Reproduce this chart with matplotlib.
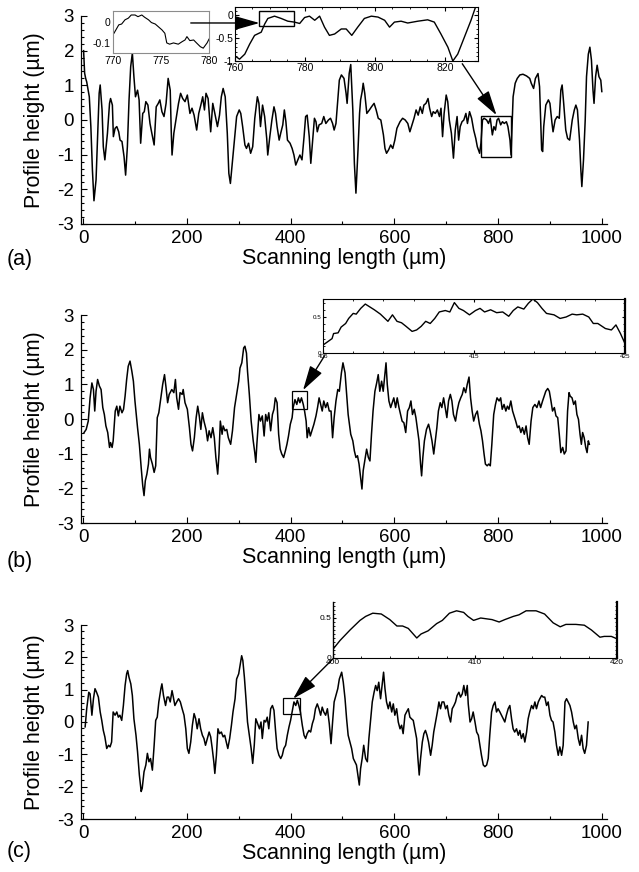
import numpy as np
import matplotlib
matplotlib.use("Agg")
import matplotlib.pyplot as plt
from matplotlib.patches import Rectangle, ConnectionPatch
from matplotlib.ticker import MultipleLocator, FixedLocator

plt.rcParams['font.family'] = ['Liberation Sans', 'DejaVu Sans']
plt.rcParams['axes.unicode_minus'] = False

# ---- profile data (scanning length um, height um) ----
prof_a = [(1, 2.0), (3, 1.35), (5, 1.2), (7, 1.10), (12, 0.67), (15, -0.19), (18, -1.44), (21, -2.33), (25, -1.73),
          (27.6, -0.67), (31, 0.77), (33, 1.01), (36.6, 0.29), (39, -0.77), (42, -1.15), (47, -0.38), (51, 0.48),
          (53, 0.62), (56.5, 0.43), (58.4, -0.48), (61.7, -0.24), (65, -0.19), (68.7, -0.34), (71.3, -0.58),
          (75, -0.62), (79, -1.06), (82, -1.59), (85.4, -0.77), (88.6, 0.58), (91.8, 1.54), (95, 1.93), (98, 1.25),
          (101, 0.67), (105, 0.86), (108, 0.58), (111, -0.67), (115, 0.19), (118, 0.24), (121, 0.53), (125, 0.43),
          (129, -0.10), (132, -0.34), (137, -0.72), (141, 0.38), (145, 0.48), (148, 0.58), (152, 0.24), (156, 0.10),
          (160, 0.48), (164, 1.20), (168, 0.86), (170, -0.34), (171.5, -1.01), (175, -0.38), (179, 0.0), (184, 0.48),
          (188, 0.77), (192, 0.62), (196.5, 0.53), (201, 0.72), (206, 0.19), (210, 0.34), (214, 0.14), (219, -0.29),
          (223, 0.19), (227, 0.43), (230.6, 0.67), (234, 0.29), (237, 0.77), (241, 0.62), (246, -0.34), (250, 0.48),
          (254, 0.19), (259, -0.19), (263, 0.14), (266.5, 0.67), (270, 0.91), (274, 0.67), (278, -0.38), (281, -1.54),
          (284, -1.83), (287, -1.34), (291, -0.67), (296, 0.10), (301, 0.29), (304, 0.19), (307.6, -0.19),
          (312, -0.72), (315, -0.82), (319, -0.67), (323, -0.96), (327, -0.77), (331, 0.05), (336, 0.67), (339, 0.48),
          (342, -0.19), (346, 0.43), (350, 0.10), (354, -0.53), (356, -1.01), (360, -0.48), (364, 0.0), (368, 0.38),
          (371, 0.19), (374, -0.19), (378, -0.58), (381, -0.38), (385, -0.14), (388, 0.29), (391, -0.05),
          (394, -0.58), (399, -0.67), (403, -0.82), (406.5, -1.01), (410, -1.30), (414, -1.15), (418, -1.01),
          (422, -1.15), (426, -0.48), (429, 0.10), (432, 0.14), (436, -0.48), (439, -1.25), (442.5, -0.58),
          (446, 0.05), (449, -0.05), (451.5, -0.34), (455, -0.14), (460, -0.10), (464, 0.10), (468, -0.10),
          (473, 0.0), (477, 0.05), (481, -0.10), (484, -0.29), (487.5, -0.10), (491, 0.58), (494, 1.15), (498, 1.30),
          (503, 1.20), (507, 0.77), (509, 0.48), (513, 1.34), (516, 1.6), (520, 0.29), (523, -1.25), (526, -2.11),
          (530, -0.86), (533, 0.19), (535, 0.58), (538, 0.82), (540, 1.06), (543, 0.77), (547, 0.19), (552, 0.29),
          (556, 0.38), (561, 0.48), (565, 0.29), (569, 0.05), (574, 0.0), (579, -0.43), (582, -0.82), (585, -0.96),
          (589, -0.86), (593, -0.72), (597, -0.82), (601, -0.58), (605, -0.24), (611, -0.05), (616, 0.05),
          (621, 0.0), (626, -0.10), (630, -0.34), (634, -0.14), (638, 0.05), (642, 0.29), (646, 0.14), (650, 0.38),
          (654, 0.19), (657, 0.43), (661, 0.48), (665, 0.62), (668, 0.34), (672, 0.10), (675, 0.24), (679, 0.19),
          (683, 0.29), (687, 0.10), (690, 0.34), (693, -0.48), (696, 0.19), (700, 0.72), (703, 0.53), (706, 0.0),
          (710, -0.38), (714, -1.10), (717.5, -0.29), (721, 0.10), (724, -0.58), (727, -0.19), (730.5, -0.05),
          (734, 0.0), (738, 0.19), (741, -0.10), (745, 0.24), (749, 0.05), (753, -0.29), (757, -0.53), (760, -0.77),
          (764.5, -0.96), (767, -0.67), (770, 0.0), (773, 0.05), (778, 0.0), (781.5, -0.10), (785, 0.05),
          (789, -0.43), (792, -0.19), (795, -0.29), (798, 0.0), (801, 0.05), (805, -0.14), (808.5, -0.05),
          (812, -0.10), (816, -0.05), (819, -0.19), (823, -0.58), (825, -1.01), (827, -0.19), (829, 0.67),
          (833, 1.06), (837, 1.20), (842, 1.30), (848, 1.32), (855, 1.27), (861, 1.20), (864, 1.06), (868.5, 0.91),
          (872, 1.20), (877, 1.34), (880, 0.96), (884, -0.86), (886, -0.91), (888, -0.19), (892, 0.43), (897, 0.58),
          (900, 0.48), (904, -0.10), (906, -0.34), (910, 0.0), (914, 0.10), (918, 0.05), (921, 0.86), (923.5, 1.01),
          (926.5, 0.48), (930.5, -0.29), (934, -0.53), (938, -0.58), (943, 0.0), (947, 0.29), (950, 0.43),
          (953, 0.29), (957, -0.58), (959.6, -1.44), (961.5, -1.92), (964.7, -1.15), (968, 0.0), (970.5, 1.25),
          (974, 1.90), (977, 2.1), (980, 1.73), (983, 0.86), (985, 0.48), (988, 1.25), (991, 1.58), (994.5, 1.25),
          (998, 1.15), (1000, 0.82)]

prof_b = [(2, -0.39), (6, -0.30), (10, -0.06), (13.5, 0.61), (17, 1.04), (20, 0.85), (22.5, 0.23), (25, 0.80),
          (28, 1.14), (31.5, 0.95), (34.7, 0.85), (38, 0.33), (41, 0.13), (44, -0.20), (47.5, -0.39), (51, -0.82),
          (53, -0.68), (56, -0.82), (58, -0.63), (62, 0.23), (65, 0.37), (68, 0.09), (71, 0.37), (75, 0.18),
          (78, 0.28), (81, 0.66), (84, 1.14), (87, 1.52), (90.5, 1.67), (94, 1.38), (97, 1.09), (100, 0.52),
          (105, -0.25), (108.5, -0.73), (112, -1.40), (115, -1.92), (117.5, -2.21), (120, -1.78), (123, -1.59),
          (126, -1.30), (128, -0.87), (130, -1.11), (133.6, -1.30), (137, -1.54), (140, -1.35), (143, 0.04),
          (146, 0.18), (150, 0.61), (153.5, 1.0), (157, 1.28), (160, 0.90), (163, 0.47), (166, 0.71), (171, 0.85),
          (175, 0.76), (178, 1.14), (180.5, 0.61), (184, 0.28), (187, 0.76), (191, 0.71), (193, 0.85), (196.5, 0.47),
          (201, 0.28), (205, -0.25), (208, -0.73), (211, -0.92), (214.5, -0.54), (218, 0.04), (221, 0.37),
          (224, 0.09), (227, -0.30), (230, 0.18), (233, -0.06), (237, -0.30), (240, -0.63), (243, -0.34),
          (246.6, -0.54), (250, -0.25), (253, -0.54), (256, -1.11), (259.5, -1.59), (262, -1.01), (264.6, -0.06),
          (268, -0.44), (270, -0.20), (273.6, -0.34), (277, -0.30), (280, -0.54), (284.5, -0.73), (288, -0.34),
          (292, 0.33), (296, 0.71), (300, 1.09), (302.5, 1.47), (306, 1.62), (309.6, 2.05), (312, 2.10), (315, 1.90),
          (317, 1.38), (320.5, 0.71), (324, -0.06), (328, -0.63), (331, -0.97), (333, -1.25), (335, -0.73),
          (339, 0.13), (342, -0.06), (345.5, 0.09), (349, -0.49), (352, 0.13), (355, -0.06), (358, 0.18),
          (361.6, -0.34), (365, 0.13), (368, 0.28), (370.6, 0.61), (374, 0.47), (377, -0.44), (380, -0.87),
          (383, -1.01), (386.6, -1.11), (390, -0.92), (393, -0.73), (396, -0.49), (399.5, -0.15), (403, 0.04),
          (405, 0.33), (408.5, 0.56), (412, 0.42), (415, 0.61), (418, 0.47), (421, 0.61), (424.5, 0.42), (427, 0.23),
          (430, -0.06), (432, -0.54), (435, -0.25), (438, -0.49), (441, -0.34), (445, -0.15), (449, 0.09),
          (452, 0.33), (455, 0.61), (458, 0.42), (461, 0.23), (464, 0.52), (467.6, 0.33), (471, 0.47), (474.6, 0.23),
          (478, 0.23), (481, -0.54), (484, 0.04), (487.5, 0.52), (491, 0.85), (494, 0.80), (498, 1.33), (501, 1.62),
          (505, 1.33), (508, 0.71), (511, 0.13), (516, -0.44), (520, -0.63), (523, -0.92), (526, -1.11),
          (529, -1.06), (532, -1.30), (535, -1.68), (537.6, -2.02), (540, -1.49), (543, -1.21), (546.6, -0.87),
          (550, -1.11), (553, -1.21), (556, -0.44), (559, 0.23), (562.6, 0.80), (566, 1.04), (569, 1.28), (572, 0.80),
          (575.5, 1.09), (578.6, 0.80), (582, 1.33), (584, 1.62), (586.4, 1.0), (589.6, 0.52), (593, 0.33),
          (596, 0.47), (599, 0.61), (602.5, 0.33), (605.6, 0.61), (609, 0.33), (612, 0.13), (615, -0.06),
          (618.5, -0.11), (622, -0.39), (625.6, 0.23), (629, 0.33), (632, 0.52), (635, 0.13), (638.4, 0.28),
          (641.6, 0.04), (645, -0.34), (647.6, -0.63), (650.6, -1.30), (652.6, -1.64), (655, -1.11), (658, -0.63),
          (662, -0.30), (666, -0.15), (669, -0.34), (672.6, -0.63), (676, -1.01), (679, -0.63), (682, -0.25),
          (685, 0.23), (688.5, 0.47), (691.6, 0.33), (695, 0.61), (698, 0.33), (701.3, 0.04), (704.6, 0.52),
          (708, 0.71), (711, 0.52), (714, 0.13), (718, -0.06), (721, 0.23), (724.5, 0.47), (728, 0.61), (731, 0.71),
          (734, 0.90), (737.5, 0.76), (740.6, 1.0), (744, 1.21), (747, 0.61), (750, 0.23), (753, -0.06),
          (756.6, 0.13), (760, 0.23), (764, -0.15), (767, -0.34), (770, -0.63), (773, -1.01), (775.6, -1.30),
          (779, -1.35), (782, -1.30), (785, -1.35), (788, -0.73), (791.6, 0.13), (795, 0.42), (798, 0.61),
          (802, 0.52), (805, 0.61), (808, 0.28), (811.5, 0.42), (815, 0.23), (818, 0.37), (821, 0.28), (824.6, 0.52),
          (828, 0.23), (831, 0.09), (834, -0.06), (837.5, -0.25), (840.6, -0.20), (844, -0.39), (847, -0.25),
          (850.6, -0.44), (854, -0.20), (857, -0.54), (860, -0.73), (863.6, -0.06), (867, 0.33), (871, 0.42),
          (874.9, 0.33), (878.8, 0.52), (882, 0.33), (885.8, 0.52), (889, 0.66), (892, 0.80), (895.7, 0.88),
          (898.8, 0.80), (902, 0.52), (905, 0.23), (908.5, 0.33), (911.6, 0.09), (915, 0.04), (918, -0.44),
          (921, -0.97), (924.6, -0.82), (927.6, -1.01), (931, -0.92), (934, 0.23), (936.8, 0.76), (939, 0.66),
          (942.6, 0.61), (945.8, 0.42), (949, 0.52), (952, 0.13), (955, -0.01), (958, -0.44), (960.6, -0.73),
          (963, -0.39), (966, -0.54), (969, -0.82), (971.6, -0.97), (974, -0.63), (976, -0.73)]

prof_c = [(4, -0.15), (7, 0.41), (11, 0.92), (13.5, 0.87), (17, 0.21), (20, 0.72), (23, 1.03), (26, 0.92),
          (29.5, 0.77), (33, 0.31), (36, 0.05), (39, -0.26), (42, -0.46), (45.6, -0.82), (49, -0.72), (52, -0.77),
          (55, -0.62), (58, 0.31), (61.7, 0.21), (65, 0.31), (68, 0.15), (71, 0.21), (74.5, 0.05), (77.7, 0.51),
          (81, 1.13), (84, 1.49), (86, 1.59), (88.6, 1.38), (92, 1.18), (95, 0.82), (98, 0.10), (102, -0.41),
          (105, -0.92), (108.5, -1.64), (112, -2.15), (114, -2.05), (117.5, -1.54), (121, -1.33), (124, -0.97),
          (127, -1.23), (130, -1.13), (133.6, -1.49), (137, -0.72), (140, 0.05), (143, 0.15), (146, 0.62),
          (150, 1.03), (152, 1.18), (155, 0.82), (159, 0.51), (162, 0.77), (165, 0.77), (168, 0.62), (171.5, 0.97),
          (174, 0.77), (177, 0.51), (180.5, 0.62), (184, 0.72), (187.5, 0.62), (191, 0.41), (194.6, 0.21),
          (198, -0.21), (201, -0.82), (204, -0.97), (207.5, -0.62), (210.7, -0.10), (214, 0.26), (217, 0.10),
          (220, -0.21), (223.5, 0.10), (226.7, -0.21), (230, -0.41), (233, -0.51), (236, -0.72), (239.6, -0.51),
          (243, -0.31), (246, -0.46), (249, -0.82), (252, -1.23), (254, -1.59), (257, -1.03), (260, -0.21),
          (263, -0.36), (266.5, -0.31), (270, -0.46), (273, -0.41), (276, -0.62), (279, -0.82), (282.6, -0.51),
          (286, -0.10), (289, 0.31), (293, 0.72), (296, 1.33), (300, 1.49), (303, 1.79), (305.7, 2.05), (308, 1.90),
          (311, 1.38), (314, 0.72), (317, 0.0), (320.5, -0.41), (324, -0.82), (327, -1.28), (330, -0.72),
          (333, 0.10), (336.5, -0.05), (340, -0.21), (343, 0.0), (345.5, -0.51), (349, 0.05), (352, 0.0),
          (355, 0.15), (358, -0.21), (361.6, 0.41), (365, 0.51), (368, 0.36), (371, -0.26), (374, -0.82),
          (377.6, -1.03), (381, -1.13), (384, -1.03), (387, -0.82), (390.5, -0.72), (393.7, -0.41), (397, -0.15),
          (400, 0.05), (403, 0.31), (406.5, 0.62), (410, 0.51), (413, 0.67), (416, 0.51), (419, 0.31),
          (422.6, -0.10), (426, -0.41), (429, -0.51), (432, -0.36), (435.5, -0.26), (438.7, -0.31), (442, -0.05),
          (445, 0.10), (448, 0.41), (451.5, 0.56), (454.7, 0.41), (458, 0.21), (461, 0.46), (464, 0.31),
          (467.6, 0.21), (471, 0.41), (474.6, -0.05), (478, -0.67), (481, 0.0), (484, 0.62), (487.5, 0.82),
          (491, 1.03), (494, 1.33), (498.5, 1.54), (501.6, 1.23), (505, 0.72), (508, 0.10), (511, -0.41),
          (514.5, -0.62), (517.7, -0.82), (521, -1.13), (524, -1.23), (527, -1.33), (530.5, -1.74), (532.5, -1.95),
          (535, -1.44), (538, -1.13), (541, -0.72), (544.7, -1.13), (548, -1.23), (551, -0.51), (554.6, 0.10),
          (557.5, 0.62), (561, 0.92), (564, 1.13), (567, 0.97), (570, 1.23), (573.5, 0.72), (577, 1.23),
          (579.3, 1.54), (582, 1.03), (585, 0.62), (588.4, 0.41), (591.5, 0.62), (595, 0.31), (598, 0.56),
          (601, 0.21), (604.5, 0.41), (607.6, 0.0), (611, -0.21), (614, -0.10), (617, -0.36), (620.5, 0.21),
          (623.6, 0.31), (627, 0.41), (630, 0.15), (633, 0.10), (636.5, 0.05), (639.6, -0.21), (643, -0.51),
          (645.5, -1.13), (648, -1.64), (650.6, -1.13), (654, -0.62), (657, -0.36), (660, -0.26), (663, -0.41),
          (666, -0.62), (670, -1.03), (673, -0.72), (676, -0.31), (679.5, 0.0), (683, 0.31), (686, 0.62),
          (689, 0.41), (692, 0.62), (695.5, 0.62), (698.8, 0.41), (702, 0.51), (705, 0.21), (708.5, 0.0),
          (711.6, 0.41), (715, 0.51), (718, 0.62), (721, 0.82), (724.5, 0.92), (727.6, 0.77), (731, 0.87),
          (734, 1.13), (737.5, 0.82), (740.6, 1.13), (742.5, 0.56), (746, 0.0), (749, 0.10), (752, 0.31),
          (755.5, 0.0), (758.7, -0.31), (762, -0.41), (765, -0.72), (768, -1.03), (771.5, -1.33), (774.6, -1.38),
          (778, -1.33), (781, -1.13), (784, -0.41), (787.5, 0.31), (790.6, 0.51), (794, 0.62), (797, 0.31),
          (800, 0.41), (803.5, 0.31), (806.7, 0.21), (810, 0.10), (813, 0.0), (816, 0.21), (819.5, 0.41),
          (822.7, 0.51), (826, 0.10), (829, -0.21), (832, -0.31), (835.6, -0.21), (839, -0.41), (842, -0.26),
          (845, -0.51), (848.5, -0.36), (851.6, -0.62), (855, -0.31), (858, 0.10), (861, 0.31), (864.6, 0.51),
          (867.7, 0.41), (871, 0.62), (874, 0.41), (877.5, 0.62), (880.5, 0.72), (884, 0.82), (887, 0.77),
          (890, 0.77), (893.5, 0.51), (896.6, 0.62), (900, 0.21), (903, 0.05), (906, 0.0), (909.5, -0.31),
          (912.6, -0.72), (916, -1.03), (919, -0.77), (922.5, -1.03), (925.5, -0.72), (929, 0.62), (932, 0.72),
          (935, 0.62), (938.5, 0.51), (941.7, 0.31), (945, 0.0), (948, -0.21), (951, -0.10), (954.6, -0.51),
          (957.7, -0.72), (961, -0.41), (964, -0.82), (967, -0.97), (970.5, -0.72), (973.7, 0.0)]

# zoomed insets
zoom_a = [(760, -0.89), (761.3, -0.96), (762.8, -0.85), (764.2, -0.63), (765.6, -0.44), (767.5, -0.37),
          (768.5, -0.19), (769.4, -0.07), (771.3, -0.02), (773.2, -0.07), (775.1, -0.13), (777, -0.15),
          (778.5, -0.18), (779.9, -0.05), (781.3, -0.02), (782.8, -0.11), (784.2, -0.02), (785.6, -0.26),
          (787, -0.44), (788.5, -0.41), (790.4, -0.30), (791.8, -0.30), (793.4, -0.44), (795.1, -0.26),
          (797, -0.07), (799, -0.02), (800.9, -0.04), (802.8, -0.11), (804.2, -0.26), (805.6, -0.15),
          (807.5, -0.13), (809.4, -0.17), (812.3, -0.13), (815.1, -0.10), (817, -0.15), (818.9, -0.41),
          (820.9, -0.70), (822.3, -1.0), (823.7, -0.85), (825.6, -0.48), (827.5, -0.11), (828.8, 0.18)]

zoom_a2 = [(770.1, -0.054), (770.6, -0.014), (770.9, -0.01), (771.25, 0.01), (771.6, 0.018), (771.9, 0.033),
           (772.3, 0.033), (772.6, 0.025), (773.0, 0.033), (773.3, 0.022), (773.7, 0.01), (774.0, -0.003),
           (774.4, -0.01), (774.7, -0.022), (775.1, -0.038), (775.4, -0.054), (775.6, -0.10), (775.9, -0.106),
           (776.3, -0.10), (776.8, -0.106), (777.2, -0.094), (777.5, -0.086), (777.7, -0.07), (778.0, -0.089),
           (778.4, -0.086), (778.7, -0.10), (779.1, -0.118), (779.4, -0.125), (779.8, -0.10), (780, -0.082)]

zoom_b = [(405.0, 0.11), (405.2, 0.14), (405.6, 0.20), (405.7, 0.27), (406.0, 0.28), (406.2, 0.36), (406.5, 0.41),
          (406.7, 0.48), (407.0, 0.55), (407.2, 0.54), (407.5, 0.62), (407.8, 0.68), (408.1, 0.64), (408.4, 0.60),
          (408.8, 0.54), (409.1, 0.48), (409.3, 0.44), (409.6, 0.53), (409.9, 0.44), (410.2, 0.42), (410.5, 0.37),
          (410.9, 0.30), (411.2, 0.32), (411.5, 0.37), (411.8, 0.44), (412.1, 0.41), (412.4, 0.48), (412.7, 0.57),
          (413.1, 0.59), (413.4, 0.57), (413.7, 0.70), (414.0, 0.62), (414.3, 0.59), (414.7, 0.53), (415.1, 0.59),
          (415.4, 0.62), (415.7, 0.57), (416.1, 0.60), (416.5, 0.56), (416.9, 0.57), (417.3, 0.51), (417.6, 0.59),
          (417.9, 0.64), (418.3, 0.61), (418.6, 0.69), (418.9, 0.75), (419.2, 0.70), (419.5, 0.62), (419.8, 0.55),
          (420.3, 0.53), (420.7, 0.48), (421.1, 0.50), (421.5, 0.54), (421.8, 0.53), (422.2, 0.54), (422.6, 0.50),
          (422.9, 0.41), (423.2, 0.41), (423.7, 0.34), (424.1, 0.32), (424.4, 0.39), (424.7, 0.27), (425.0, 0.13)]

zoom_c = [(400, 0.11), (400.5, 0.22), (401.2, 0.35), (401.9, 0.47), (402.3, 0.52), (402.8, 0.56), (403.4, 0.55),
          (404.0, 0.48), (404.5, 0.40), (404.9, 0.40), (405.3, 0.37), (405.9, 0.25), (406.2, 0.30), (406.7, 0.34),
          (407.3, 0.43), (407.7, 0.47), (408.2, 0.56), (408.7, 0.59), (409.2, 0.57), (409.5, 0.52), (409.9, 0.47),
          (410.4, 0.50), (411.2, 0.48), (411.7, 0.45), (412.1, 0.48), (412.7, 0.52), (413.1, 0.54), (413.6, 0.59),
          (414.3, 0.59), (414.9, 0.55), (415.5, 0.44), (416.0, 0.39), (416.4, 0.42), (417.1, 0.42), (417.7, 0.41),
          (418.2, 0.35), (418.8, 0.26), (419.1, 0.27), (419.6, 0.27), (420, 0.24)]

W, H = 639, 872


def rect(x0, y0, x1, y1):
    # pixel box (top-left origin) -> figure fraction
    return [x0 / W, 1 - y1 / H, (x1 - x0) / W, (y1 - y0) / H]


fig = plt.figure(figsize=(W / 100, H / 100), dpi=100)


def main_panel(r, pts, letter, letter_y):
    ax = fig.add_axes(r)
    x, y = zip(*pts)
    ax.plot(x, y, color='black', lw=1.1)
    ax.set_xlim(-4, 1010)
    ax.set_ylim(-3, 3)
    for s in ['top', 'right']:
        ax.spines[s].set_visible(False)
    for s in ['left', 'bottom']:
        ax.spines[s].set_linewidth(0.9)
    ax.set_xticks(range(0, 1001, 200))
    ax.xaxis.set_minor_locator(MultipleLocator(100))
    ax.set_yticks(range(-3, 4))
    ax.yaxis.set_minor_locator(MultipleLocator(0.2))
    ax.tick_params(which='both', direction='in', width=0.8, labelsize=13.5)
    ax.tick_params(which='major', length=4)
    ax.tick_params(which='minor', length=2.5)
    ax.tick_params(axis='y', pad=5)
    ax.tick_params(axis='x', pad=4)
    ax.set_ylabel('Profile height (µm)', fontsize=15.5, labelpad=9)
    ax.set_xlabel('Scanning length (µm)', fontsize=15.5, labelpad=1)
    fig.text(7 / W, 1 - letter_y / H, letter, fontsize=15.5, va='center', ha='left')
    return ax


def inset(r, pts, xlim, ylim, lw=1.0):
    ax = fig.add_axes(r)
    x, y = zip(*pts)
    ax.plot(x, y, color='black', lw=lw)
    ax.set_xlim(*xlim)
    ax.set_ylim(*ylim)
    return ax


def connect(axA, xyA, axB, xyB):
    con = ConnectionPatch(xyA=xyA, coordsA=axA.transData, xyB=xyB, coordsB=axB.transData,
                          arrowstyle='-|>,head_length=0.85,head_width=0.24', mutation_scale=18,
                          color='black', lw=1.0, shrinkA=0, shrinkB=0)
    fig.add_artist(con)


ax_a = main_panel(rect(81, 16, 607, 224), prof_a, '(a)', 260)
ax_b = main_panel(rect(81, 315, 607, 523), prof_b, '(b)', 562)
ax_c = main_panel(rect(81, 625, 607, 819), prof_c, '(c)', 851)

# (a) insets
ia1 = inset(rect(235, 7, 478, 61), zoom_a, (760, 829.5), (-1.0, 0.18))
ia1.set_xticks([760, 780, 800, 820])
ia1.xaxis.set_minor_locator(MultipleLocator(5))
ia1.set_yticks([-1, -0.5, 0])
ia1.set_yticklabels(['-1', '-0.5', '0'])
ia1.yaxis.set_minor_locator(MultipleLocator(0.1))
ia1.tick_params(which='both', direction='in', top=True, right=True, labelsize=7.5, pad=1.5)
ia1.tick_params(which='major', length=3)
ia1.tick_params(which='minor', length=1.5)

ia2 = inset(rect(113, 11, 209, 53), zoom_a2, (770, 780), (-0.148, 0.052), lw=0.8)
ia2.set_xticks([770, 775, 780])
ia2.set_yticks([-0.1, 0])
ia2.set_yticklabels(['-0.1', '0'])
ia2.tick_params(length=0, labelsize=7.5, pad=2)
for s in ia2.spines.values():
    s.set_color('#8c8c8c')

ax_a.add_patch(Rectangle((767, -1.07), 58, 1.19, fill=False, lw=1.0, ec='black'))
ia1.add_patch(Rectangle((767, -0.24), 10, 0.33, fill=False, lw=1.0, ec='black'))
connect(ia2, (778.1, -0.005), ia1, (767, -0.17))
connect(ia1, (825, -1.06), ax_a, (797, 0.14))

# (b) inset
ib = inset(rect(323, 299, 625, 353), zoom_b, (405, 425), (0, 0.75))
ib.set_xticks([405, 415, 425])
ib.xaxis.set_minor_locator(FixedLocator(np.arange(405, 426, 2)))
ib.set_yticks([0, 0.5])
ib.set_yticklabels(['0', '0.5'])
ib.yaxis.set_minor_locator(MultipleLocator(0.1))
ib.tick_params(which='both', direction='in', top=True, right=True, labelsize=4.5, pad=1)
ib.tick_params(which='major', length=2.5)
ib.tick_params(which='minor', length=1.5)
for s in ib.spines.values():
    s.set_linewidth(0.8)
ib.spines['right'].set_linewidth(1.6)
ax_b.add_patch(Rectangle((403, 0.3), 28, 0.5, fill=False, lw=0.9, ec='black'))
connect(ib, (405.1, -0.04), ax_b, (424, 0.83))

# (c) inset
ic = inset(rect(333, 602, 617, 658), zoom_c, (400, 420), (0, 0.7))
ic.spines['top'].set_visible(False)
ic.spines['left'].set_linewidth(1.0)
ic.spines['right'].set_linewidth(1.6)
ic.set_xticks([400, 410, 420])
ic.xaxis.set_minor_locator(MultipleLocator(2))
ic.set_yticks([0, 0.5])
ic.set_yticklabels(['0', '0.5'])
ic.yaxis.set_minor_locator(MultipleLocator(0.05))
ic.tick_params(which='both', direction='in', right=True, labelsize=6, pad=1)
ic.tick_params(which='major', length=2.5)
ic.tick_params(which='minor', length=1.5)
ax_c.add_patch(Rectangle((385, 0.25), 33, 0.5, fill=False, lw=0.9, ec='black'))
connect(ic, (400, -0.01), ax_c, (405, 0.72))

fig.savefig('out.png', dpi=100)
